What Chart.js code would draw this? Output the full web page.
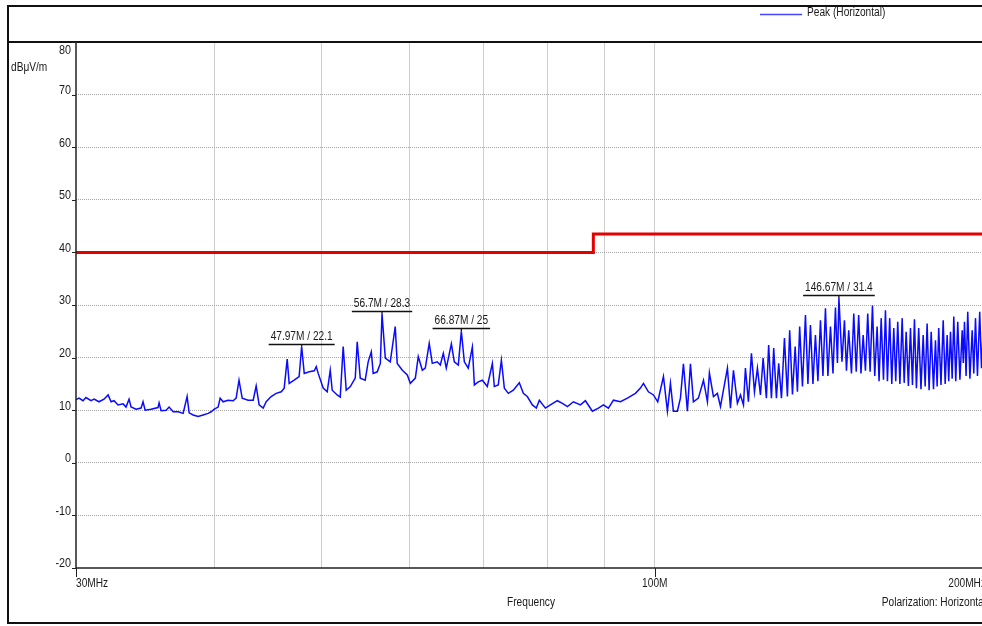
<!DOCTYPE html>
<html>
<head>
<meta charset="utf-8">
<script src="https://cdn.jsdelivr.net/npm/chart.js@4.4.1/dist/chart.umd.min.js"></script>
<style>
html, body { margin: 0; padding: 0; overflow: hidden; background: #fff; }
#wrap { position: absolute; left: 0; top: 0; width: 1000px; height: 626px; }
</style>
</head>
<body>
<div id="wrap"><canvas id="chart" width="1000" height="626"></canvas></div>
<script>
// scan data (MHz / dBuV/m)
const freqMHz = [
  30.00, 30.19, 30.44, 30.63, 30.95, 31.15, 31.47, 31.80, 32.07, 32.27, 32.47, 32.74, 33.09, 33.29, 33.50, 33.64,
  33.99, 34.35, 34.49, 34.64, 35.07, 35.58, 35.66, 35.81, 36.19, 36.41, 36.72, 37.10, 37.49, 37.80, 37.96, 38.28,
  38.67, 39.08, 39.49, 39.74, 40.00, 40.32, 40.49, 40.74, 41.16, 41.60, 41.86, 42.11, 42.39, 42.91, 43.37, 43.64,
  43.91, 44.28, 44.56, 45.02, 45.49, 45.98, 46.26, 46.55, 46.74, 47.23, 47.72, 47.97, 48.23, 48.73, 49.25, 49.45,
  49.65, 50.17, 50.59, 50.91, 51.12, 51.65, 51.98, 52.30, 52.63, 53.08, 53.63, 53.85, 54.19, 54.75, 55.09, 55.45,
  55.67, 56.14, 56.50, 56.70, 57.09, 57.68, 58.28, 58.52, 59.15, 59.76, 60.14, 60.77, 61.14, 61.66, 62.04, 62.55,
  62.95, 63.60, 64.01, 64.41, 64.81, 65.50, 65.90, 66.45, 66.87, 67.29, 67.84, 68.42, 68.71, 69.27, 69.86, 70.58,
  71.33, 71.62, 72.21, 72.68, 73.13, 73.74, 74.51, 75.44, 76.08, 76.71, 77.52, 78.16, 78.65, 79.65, 80.48, 81.65,
  82.52, 83.38, 84.43, 85.67, 86.56, 87.83, 88.93, 89.87, 90.80, 91.76, 93.11, 94.47, 96.05, 97.06, 97.67, 98.68,
  99.72, 100.62, 101.82, 102.66, 103.31, 103.95, 104.81, 105.48, 106.14, 107.02, 107.70, 108.37, 109.49, 110.66, 111.57, 112.03,
  112.98, 113.91, 114.64, 116.31, 117.05, 117.78, 118.75, 119.51, 120.26, 120.75, 121.50, 122.27, 123.04, 123.80, 124.58, 125.28,
  126.13, 126.73, 127.46, 128.07, 128.79, 129.40, 130.15, 130.96, 131.77, 132.39, 133.16, 133.91, 134.54, 135.17, 135.96, 136.81,
  137.51, 138.24, 138.96, 139.68, 140.40, 141.15, 141.88, 142.62, 143.35, 144.12, 144.87, 145.62, 146.22, 146.67, 147.61, 148.37,
  148.99, 149.69, 150.55, 151.27, 152.05, 152.83, 153.56, 154.26, 154.99, 155.73, 156.50, 157.27, 158.02, 158.80, 159.45, 160.15,
  160.92, 161.58, 162.25, 163.01, 163.72, 164.40, 165.08, 165.76, 166.51, 167.30, 168.00, 168.69, 169.48, 170.21, 170.92, 171.63,
  172.33, 173.15, 173.97, 174.77, 175.49, 176.21, 176.94, 177.71, 178.56, 179.30, 179.92, 180.51, 181.37, 182.20, 182.95, 183.71,
  184.31, 184.99, 185.64, 186.26, 187.03, 187.80, 188.65, 189.55, 189.98, 190.45, 191.08, 191.75, 192.61, 193.53, 194.17, 194.86,
  195.66, 196.58, 197.31, 198.20, 199.10, 200.00
];
const peakLevel = [
  12.0, 12.3, 11.8, 12.4, 11.8, 12.1, 11.6, 12.1, 12.9, 11.6, 11.8, 11.0, 11.2, 10.6, 12.1, 10.6,
  10.2, 10.4, 11.6, 10.0, 10.2, 10.5, 11.4, 9.9, 10.0, 10.6, 9.7, 9.7, 9.4, 12.6, 9.5, 9.1,
  8.8, 9.1, 9.4, 9.7, 10.2, 10.6, 12.3, 11.6, 11.9, 11.8, 12.3, 15.7, 12.3, 11.9, 11.9, 14.6,
  11.0, 10.4, 11.6, 12.6, 13.2, 13.5, 14.2, 19.7, 15.1, 15.7, 16.4, 22.1, 17.0, 17.3, 17.5, 18.3,
  17.0, 14.2, 13.5, 17.6, 13.8, 12.9, 12.5, 22.1, 13.8, 14.5, 16.1, 23.0, 16.1, 15.7, 19.2, 21.1,
  17.0, 17.3, 18.9, 28.3, 19.9, 19.2, 25.9, 18.9, 17.6, 16.7, 15.1, 16.1, 20.2, 17.6, 18.0, 22.7,
  18.9, 19.2, 18.6, 20.8, 18.0, 22.6, 19.2, 18.6, 25.0, 19.2, 18.0, 22.0, 14.8, 15.4, 15.7, 14.5,
  18.9, 14.5, 14.8, 19.5, 14.2, 13.2, 13.8, 15.2, 13.2, 12.6, 11.0, 10.4, 11.9, 10.4, 11.0, 11.8,
  11.3, 10.7, 11.6, 11.0, 11.8, 9.8, 10.4, 11.0, 10.4, 11.9, 11.6, 12.3, 13.2, 14.2, 15.1, 13.5,
  12.9, 11.6, 16.4, 9.8, 15.1, 9.8, 9.8, 12.3, 18.8, 9.8, 18.8, 11.6, 12.3, 15.7, 11.6, 17.1,
  12.6, 13.2, 10.7, 18.0, 10.4, 17.6, 11.3, 12.9, 11.0, 18.0, 11.6, 20.8, 13.5, 18.0, 12.9, 19.9,
  12.3, 22.4, 12.3, 21.8, 12.3, 18.9, 12.3, 23.7, 12.6, 25.2, 13.0, 22.1, 13.5, 25.9, 14.5, 28.1,
  15.0, 26.2, 15.0, 24.3, 15.5, 27.1, 16.5, 29.4, 16.5, 25.9, 17.0, 29.5, 19.0, 31.4, 19.2, 27.1,
  17.5, 25.2, 17.0, 28.4, 17.3, 28.1, 17.0, 24.3, 17.5, 28.4, 17.3, 29.9, 16.5, 25.9, 15.5, 27.5,
  15.8, 29.0, 15.5, 27.5, 15.0, 25.6, 15.5, 26.8, 15.0, 27.5, 15.2, 24.9, 14.6, 25.6, 14.8, 27.3,
  14.2, 25.6, 14.0, 24.3, 14.5, 26.5, 13.8, 24.9, 14.0, 23.3, 14.5, 25.6, 14.8, 27.1, 15.0, 24.3,
  15.5, 24.9, 16.0, 27.8, 15.5, 26.8, 15.8, 25.2, 19.0, 26.8, 16.5, 28.7, 16.0, 25.2, 17.0, 27.5,
  16.5, 28.7, 18.0, 27.0, 17.5, 22.0
];

// limit line
const limitFreq = [30, 88, 88, 200];
const limitLevel = [40, 40, 43.5, 43.5];

// axes
const yTicks = [-20, -10, 0, 10, 20, 30, 40, 50, 60, 70, 80];
const xGridTicks = [30, 40, 50, 60, 70, 80, 90, 100, 200];
const xLabelValues = [30, 100, 200];
const xLabelTexts = ['30MHz', '100M', '200MHz'];

// marked peaks
const markerFreq = [47.97, 56.7, 66.87, 146.67];
const markerLevel = [22.1, 28.3, 25, 31.4];

const FONT = '"Liberation Sans", Arial, sans-serif';
const NARROW = 0.845;

function drawText(ctx, s, x, y, align, sx) {
    ctx.save();
    ctx.font = '12px ' + FONT;
    ctx.textBaseline = 'middle';
    ctx.textAlign = align;
    ctx.translate(x, y);
    ctx.scale(sx, 1);
    ctx.fillText(s, 0, 0);
    ctx.restore();
}

function textWidth(ctx, s, sx) {
    ctx.save();
    ctx.font = '12px ' + FONT;
    const w = ctx.measureText(s).width * sx;
    ctx.restore();
    return w;
}

// frame, axes, labels and markers
const framePlugin = {
    id: 'framePlugin',
    afterDraw(chart) {
        const ctx = chart.ctx;
        const a = chart.chartArea;
        const xs = chart.scales.x;
        const ys = chart.scales.y;
        const W = chart.width;
        ctx.save();

        // outer frame + header line
        ctx.strokeStyle = '#111';
        ctx.lineWidth = 2;
        ctx.beginPath();
        ctx.moveTo(W, 6);
        ctx.lineTo(8, 6);
        ctx.lineTo(8, 623);
        ctx.lineTo(W, 623);
        ctx.moveTo(8, a.top);
        ctx.lineTo(W, a.top);
        ctx.stroke();

        // axis lines
        ctx.lineWidth = 1.5;
        ctx.strokeStyle = '#222';
        ctx.beginPath();
        ctx.moveTo(a.left, a.top);
        ctx.lineTo(a.left, a.bottom);
        ctx.lineTo(a.right, a.bottom);
        ctx.stroke();

        ctx.fillStyle = '#1a1a1a';
        ctx.lineWidth = 1;

        // y labels
        yTicks.forEach(v => {
            const py = ys.getPixelForValue(v);
            ctx.beginPath();
            ctx.moveTo(a.left - 4, Math.round(py) + 0.5);
            ctx.lineTo(a.left, Math.round(py) + 0.5);
            ctx.stroke();
            const ly = v === 80 ? py + 9 : py - 4;
            drawText(ctx, String(v), a.left - 5, ly, 'right', 0.9);
        });
        drawText(ctx, 'dBμV/m', 11, 68, 'left', NARROW);

        // x labels
        xLabelValues.forEach((v, i) => {
            const px = xs.getPixelForValue(v);
            if (i < 2) {
                ctx.beginPath();
                ctx.moveTo(Math.round(px) + 0.5, a.bottom);
                ctx.lineTo(Math.round(px) + 0.5, a.bottom + 9);
                ctx.stroke();
            }
            const align = i === 0 ? 'left' : (i === 1 ? 'center' : 'right');
            const lx = i === 2 ? px - 2 : px;
            drawText(ctx, xLabelTexts[i], lx, a.bottom + 16, align, NARROW);
        });
        drawText(ctx, 'Frequency', 531, 603, 'center', NARROW);
        drawText(ctx, 'Polarization: Horizontal', a.right - 2, 603, 'right', NARROW);

        // legend
        ctx.strokeStyle = '#4646ff';
        ctx.lineWidth = 1.5;
        ctx.beginPath();
        ctx.moveTo(760, 14.5);
        ctx.lineTo(802, 14.5);
        ctx.stroke();
        drawText(ctx, 'Peak (Horizontal)', 807, 13, 'left', NARROW);

        // peak markers
        ctx.strokeStyle = '#111';
        ctx.lineWidth = 1.3;
        markerFreq.forEach((f, i) => {
            const px = xs.getPixelForValue(f);
            const py = ys.getPixelForValue(markerLevel[i]);
            const label = f + 'M / ' + markerLevel[i];
            const w = textWidth(ctx, label, NARROW);
            const uy = Math.round(py - 3) + 0.5;
            ctx.beginPath();
            ctx.moveTo(px - w / 2 - 2, uy);
            ctx.lineTo(px + w / 2 + 2, uy);
            ctx.moveTo(px, uy);
            ctx.lineTo(px, py);
            ctx.stroke();
            drawText(ctx, label, px, uy - 8, 'center', NARROW);
        });

        ctx.restore();
    }
};

const ctx = document.getElementById('chart').getContext('2d');
new Chart(ctx, {
    type: 'scatter',
    data: {
        datasets: [{
            label: 'Limit',
            data: limitFreq.map((f, i) => ({ x: f, y: limitLevel[i] })),
            showLine: true,
            borderColor: '#e30000',
            borderWidth: 3,
            pointRadius: 0
        }, {
            label: 'Peak (Horizontal)',
            data: freqMHz.map((f, i) => ({ x: f, y: peakLevel[i] })),
            showLine: true,
            borderColor: '#0a0aff',
            borderWidth: 1.5,
            pointRadius: 0
        }]
    },
    options: {
        responsive: false,
        animation: false,
        devicePixelRatio: 1,
        layout: { padding: { left: 76, top: 42, right: 12, bottom: 58 }, autoPadding: false },
        plugins: { legend: { display: false }, tooltip: { enabled: false } },
        scales: {
            x: {
                type: 'logarithmic',
                min: 30,
                max: 200,
                afterBuildTicks: s => { s.ticks = xGridTicks.map(v => ({ value: v })); },
                afterFit: s => { s.height = 0; },
                ticks: { display: false },
                grid: {
                    drawTicks: false,
                    lineWidth: 1,
                    color: c => (c.tick && (c.tick.value === 30 || c.tick.value === 200)) ? 'rgba(0,0,0,0)' : '#cdcdcd'
                },
                border: { display: false }
            },
            y: {
                min: -20,
                max: 80,
                afterBuildTicks: s => { s.ticks = yTicks.map(v => ({ value: v })); },
                afterFit: s => { s.width = 0; },
                ticks: { display: false },
                grid: {
                    drawTicks: false,
                    lineWidth: 1,
                    color: c => (c.tick && (c.tick.value === -20 || c.tick.value === 80)) ? 'rgba(0,0,0,0)' : '#a8a8a8'
                },
                border: { display: false, dash: [1, 1] }
            }
        }
    },
    plugins: [framePlugin]
});
</script>
</body>
</html>
